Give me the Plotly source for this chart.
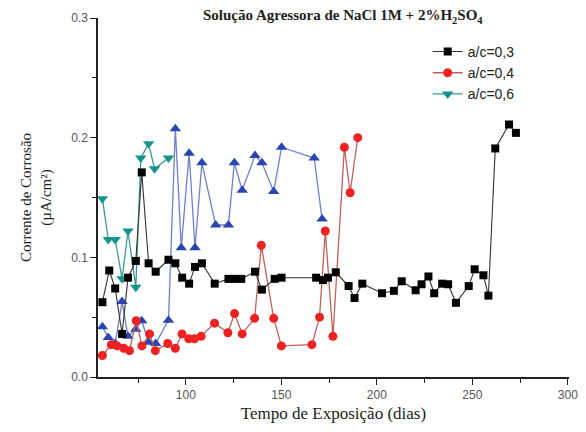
import plotly.graph_objects as go

# a/c = 0,3 (black squares)
x_03 = [56.3, 59.9, 63.0, 66.6, 69.7, 73.8, 76.9, 80.5, 84.2, 90.9, 94.5, 98.1, 101.7, 104.8,
        108.4, 115.1, 122.3, 125.4, 129.0, 136.2, 139.8, 146.5, 150.1, 168.2, 171.8, 174.4,
        178.5, 185.2, 188.3, 192.4, 202.7, 208.9, 213.0, 220.3, 223.4, 227.0, 230.0, 234.2,
        237.3, 241.4, 248.1, 251.2, 255.8, 258.4, 262.0, 269.2, 272.8]
y_03 = [0.0625, 0.089, 0.074, 0.036, 0.083, 0.097, 0.171, 0.095, 0.088, 0.098, 0.095, 0.083,
        0.078, 0.092, 0.095, 0.078, 0.082, 0.082, 0.082, 0.088, 0.073, 0.082, 0.083, 0.083,
        0.081, 0.083, 0.0875, 0.076, 0.066, 0.078, 0.070, 0.072, 0.080, 0.0725, 0.0775, 0.084,
        0.070, 0.078, 0.0775, 0.062, 0.076, 0.090, 0.085, 0.068, 0.191, 0.211, 0.204]

# a/c = 0,4 (red circles)
x_04 = [56.3, 61.0, 64.0, 67.5, 70.5, 74.0, 77.0, 81.0, 84.0, 90.5, 94.5, 98.0, 101.5, 104.5,
        108.0, 115.0, 122.0, 125.5, 129.5, 136.0, 139.5, 146.0, 150.0, 166.0, 170.0, 173.0,
        177.0, 183.0, 186.0, 190.0]
y_04 = [0.018, 0.027, 0.026, 0.024, 0.022, 0.047, 0.026, 0.036, 0.022, 0.028, 0.024, 0.036,
        0.032, 0.032, 0.034, 0.045, 0.037, 0.053, 0.036, 0.049, 0.110, 0.049, 0.026, 0.027,
        0.050, 0.122, 0.034, 0.192, 0.154, 0.200]

# a/c = 0,6 (teal down-triangles)
x_06 = [56.3, 59.4, 63.0, 66.6, 69.7, 73.8, 76.4, 80.5, 83.6, 90.9]
y_06 = [0.149, 0.115, 0.115, 0.082, 0.122, 0.075, 0.183, 0.195, 0.174, 0.183]

# unlabelled series (blue up-triangles)
x_blue = [56.3, 59.4, 63.0, 66.6, 69.7, 73.8, 76.9, 80.5, 84.2, 90.9, 94.5, 97.6, 101.7, 104.8,
          108.4, 115.6, 122.3, 125.4, 129.5, 136.2, 139.8, 146.0, 150.1, 167.2, 171.3]
y_blue = [0.042, 0.033, 0.028, 0.063, 0.034, 0.040, 0.047, 0.029, 0.028, 0.0475, 0.2075, 0.108,
          0.187, 0.108, 0.179, 0.127, 0.127, 0.179, 0.156, 0.185, 0.179, 0.155, 0.192, 0.183,
          0.132]

fig = go.Figure()
fig.add_trace(go.Scatter(x=x_blue, y=y_blue, mode="lines+markers", showlegend=False,
                         line=dict(color="#6f7fc8", width=1.3),
                         marker=dict(symbol="triangle-up", size=10, color="#2a45b0")))
fig.add_trace(go.Scatter(x=x_06, y=y_06, mode="lines+markers", name="a/c=0,6",
                         line=dict(color="#3a9a90", width=1.3),
                         marker=dict(symbol="triangle-down", size=10, color="#15948a")))
fig.add_trace(go.Scatter(x=x_04, y=y_04, mode="lines+markers", name="a/c=0,4",
                         line=dict(color="#c0605a", width=1.3),
                         marker=dict(symbol="circle", size=9, color="#ee2222")))
fig.add_trace(go.Scatter(x=x_03, y=y_03, mode="lines+markers", name="a/c=0,3",
                         line=dict(color="#333333", width=1.1),
                         marker=dict(symbol="square", size=8, color="#000000")))

fig.update_layout(
    width=586, height=432,
    margin=dict(l=98, r=8, t=18, b=55),
    plot_bgcolor="white", paper_bgcolor="white",
    title=dict(text="<b>Solução Agressora de NaCl 1M + 2%H<sub>2</sub>SO<sub>4</sub></b>",
               x=0.585, xanchor="center", y=0.965, yanchor="middle",
               font=dict(family="Liberation Serif", size=15, color="#222222")),
    legend=dict(x=0.70, y=0.95, xanchor="left", yanchor="top", traceorder="reversed",
                bgcolor="rgba(0,0,0,0)", font=dict(family="Liberation Sans", size=14, color="#222222"),
                itemwidth=30, tracegroupgap=0),
    font=dict(family="Liberation Sans", color="#444444"),
)
fig.update_xaxes(range=[54, 300.6], tick0=0, dtick=50, ticks="outside", ticklen=6,
                 ticklabeloverflow="allow",
                 showgrid=False, zeroline=False, showline=True, linecolor="#222222", linewidth=1.5,
                 tickcolor="#222222", tickfont=dict(family="Liberation Sans", size=12, color="#555555"),
                 minor=dict(dtick=25, tick0=0, ticks="outside", ticklen=4, tickcolor="#222222"),
                 title=dict(text="Tempo de Exposição (dias)",
                            font=dict(family="Liberation Serif", size=17, color="#222222"), standoff=6))
fig.update_yaxes(range=[0, 0.3], dtick=0.1, tickformat=".1f", ticks="outside", ticklen=6,
                 showgrid=False, zeroline=False, showline=True, linecolor="#222222", linewidth=1.5,
                 tickcolor="#222222", tickfont=dict(family="Liberation Sans", size=12, color="#555555"),
                 minor=dict(dtick=0.05, ticks="outside", ticklen=4, tickcolor="#222222"),
                 title=dict(text="Corrente de Corrosão<br>(µA/cm²)",
                            font=dict(family="Liberation Serif", size=15, color="#222222"), standoff=16))

fig.write_html("out.html")
